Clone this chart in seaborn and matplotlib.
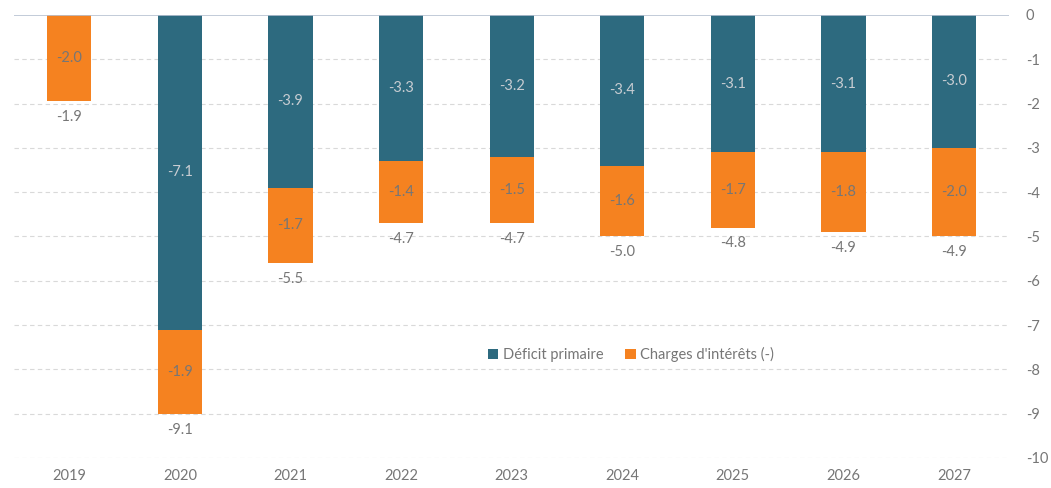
import numpy as np
import pandas as pd
import matplotlib.pyplot as plt
import seaborn as sns

years = ["2019", "2020", "2021", "2022", "2023", "2024", "2025", "2026", "2027"]
primary = [0.0, -7.1, -3.9, -3.3, -3.2, -3.4, -3.1, -3.1, -3.0]
interest = [-1.95, -1.9, -1.7, -1.4, -1.5, -1.6, -1.7, -1.8, -2.0]
interest_lbl = ["-2.0", "-1.9", "-1.7", "-1.4", "-1.5", "-1.6", "-1.7", "-1.8", "-2.0"]
total = [-1.9, -9.1, -5.5, -4.7, -4.7, -5.0, -4.8, -4.9, -4.9]

teal = "#2D6A7F"
orange = "#F58220"
grey = "#767676"

sns.set_theme(style="white")
plt.rcParams["font.family"] = ["Lato", "DejaVu Sans"]

df = pd.DataFrame({"year": years, "primary": primary, "interest": interest})
df["stack"] = df["primary"] + df["interest"]

fig = plt.figure(figsize=(10.51, 4.88), dpi=100)
ax = fig.add_axes([0.0133, 0.0615, 0.947, 0.9078])

# orange = full stack, teal drawn on top of it
sns.barplot(data=df, x="year", y="stack", color=orange, width=0.4,
            saturation=1, ax=ax, label="Charges d'intérêts (-)", zorder=3,
            linewidth=0)
sns.barplot(data=df, x="year", y="primary", color=teal, width=0.4,
            saturation=1, ax=ax, label="Déficit primaire", zorder=3,
            linewidth=0)

ax.set_ylim(-10, 0)
ax.set_xlim(-0.5, len(years) - 0.5)

# gridlines
for v in range(-10, 0):
    ax.axhline(v, color="#D9D9D9", lw=0.8, ls=(0, (4, 3)), zorder=1)
ax.axhline(0, color="#B8C2D2", lw=1.2, zorder=4)

# labels
for i in range(len(years)):
    p, it, st = primary[i], interest[i], df["stack"][i]
    if p != 0:
        ax.text(i, p / 2, f"{p:.1f}", ha="center", va="center",
                color="#C8CDD2", fontsize=10.5, zorder=5)
    ax.text(i, p + it / 2, interest_lbl[i], ha="center", va="center",
            color=grey, fontsize=10.5, zorder=5)
    ax.text(i, st - 0.2, f"{total[i]:.1f}", ha="center", va="top",
            color=grey, fontsize=10.5, zorder=5)

ax.yaxis.tick_right()
ax.set_yticks(range(-10, 1))
ax.set_yticklabels([str(v) for v in range(-10, 1)])
ax.tick_params(axis="both", length=0, colors=grey, labelsize=10.5)
ax.tick_params(axis="y", pad=12)
ax.tick_params(axis="x", pad=8)
ax.set_xlabel("")
ax.set_ylabel("")
for s in ax.spines.values():
    s.set_visible(False)

handles, labels = ax.get_legend_handles_labels()
order = [labels.index("Déficit primaire"), labels.index("Charges d'intérêts (-)")]
ax.legend([handles[k] for k in order], [labels[k] for k in order],
          loc="center", bbox_to_anchor=(0.62, 0.233), ncol=2, frameon=False,
          fontsize=10.5, labelcolor=grey, handlelength=0.7, handleheight=0.7,
          handletextpad=0.3, columnspacing=1.5)

plt.savefig("out.png", dpi=100)
